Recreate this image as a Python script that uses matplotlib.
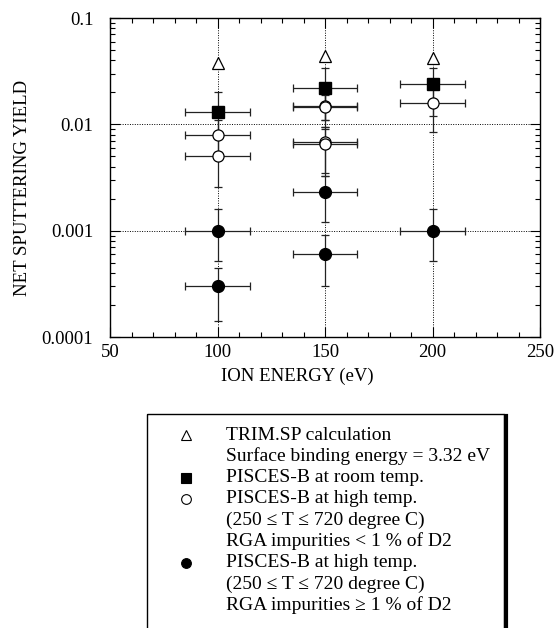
import matplotlib
matplotlib.use("Agg")
import matplotlib.pyplot as plt
from matplotlib.patches import Rectangle
from matplotlib.lines import Line2D
import numpy as np

plt.rcParams['font.family'] = ['Liberation Serif', 'DejaVu Serif']

# ---------------- data ----------------
trim_energy = [100, 150, 200]
trim_yield = [0.038, 0.044, 0.042]

room_energy = [100, 150, 200]
room_yield = [0.013, 0.022, 0.024]
room_lo = [0.0085, 0.011, 0.012]
room_hi = [0.020, 0.034, 0.034]

lowimp_energy = [100, 100, 150, 150, 150, 150, 200]
lowimp_yield = [0.008, 0.005, 0.015, 0.0145, 0.0068, 0.0065, 0.016]
lowimp_lo = [0.0055, 0.0026, 0.0095, 0.011, 0.0035, 0.0033, 0.0085]
lowimp_hi = [0.011, 0.0075, 0.021, 0.019, 0.0095, 0.009, 0.023]

highimp_energy = [100, 100, 150, 150, 200]
highimp_yield = [0.001, 0.0003, 0.0023, 0.0006, 0.001]
highimp_lo = [0.00052, 0.00014, 0.0012, 0.0003, 0.00052]
highimp_hi = [0.0016, 0.00045, 0.0033, 0.00091, 0.0016]

energy_err = 15

x_ticks = [50, 100, 150, 200, 250]
y_ticks = [0.0001, 0.001, 0.01, 0.1]
y_tick_labels = ['0.0001', '0.001', '0.01', '0.1']

legend_lines = [
    ('^', 'white', 'TRIM.SP calculation'),
    (None, None, 'Surface binding energy = 3.32 eV'),
    ('s', 'black', 'PISCES-B at room temp.'),
    ('o', 'white', 'PISCES-B at high temp.'),
    (None, None, '(250 ≤ T ≤ 720 degree C)'),
    (None, None, 'RGA impurities < 1 % of D2'),
    ('o', 'black', 'PISCES-B at high temp.'),
    (None, None, '(250 ≤ T ≤ 720 degree C)'),
    (None, None, 'RGA impurities ≥ 1 % of D2'),
]

# ---------------- figure ----------------
W, H = 558, 628
fig = plt.figure(figsize=(W / 100, H / 100), dpi=100)
ax = fig.add_axes([110 / W, 1 - 337 / H, 430 / W, 319 / H])

def yerr(y, lo, hi):
    y = np.array(y); lo = np.array(lo); hi = np.array(hi)
    return [y - lo, hi - y]

ekw = dict(ecolor='#222222', elinewidth=0.9, capsize=3, capthick=0.9, ls='none', zorder=3)

ax.errorbar(room_energy, room_yield, xerr=energy_err,
            yerr=yerr(room_yield, room_lo, room_hi),
            marker='s', ms=8.5, mfc='black', mec='black', **ekw)
ax.errorbar(lowimp_energy, lowimp_yield, xerr=energy_err,
            yerr=yerr(lowimp_yield, lowimp_lo, lowimp_hi),
            marker='o', ms=8, mfc='white', mec='black', mew=0.9, **ekw)
ax.errorbar(highimp_energy, highimp_yield, xerr=energy_err,
            yerr=yerr(highimp_yield, highimp_lo, highimp_hi),
            marker='o', ms=8.5, mfc='black', mec='black', **ekw)
ax.plot(trim_energy, trim_yield, ls='none', marker='^', ms=8,
        mfc='white', mec='black', mew=0.9, zorder=4)

ax.set_yscale('log')
ax.set_xlim(50, 250)
ax.set_ylim(0.0001, 0.1)
ax.set_xticks(x_ticks)
ax.set_xticks(np.arange(50, 251, 10), minor=True)
ax.set_yticks(y_ticks)
ax.set_yticklabels(y_tick_labels)
ax.tick_params(which='both', direction='in', top=True, right=True,
               labelsize=13.5, width=0.8)
ax.tick_params(which='major', length=7)
ax.tick_params(which='minor', length=3.5)
ax.tick_params(axis='x', which='major', pad=5)
ax.tick_params(axis='y', which='major', pad=12)
ax.grid(True, which='major', ls=(0, (1, 1.5)), color='black', lw=0.7)
ax.set_axisbelow(True)
for s in ax.spines.values():
    s.set_linewidth(1.0)

ax.set_xlabel('ION ENERGY (eV)', fontsize=13.5)
ax.xaxis.set_label_coords(0.436, -0.095)
ax.set_ylabel('NET SPUTTERING YIELD', fontsize=13.5)
ax.yaxis.set_label_coords(-0.184, 0.467)

# ---------------- legend box ----------------
lax = fig.add_axes([0, 0, 1, 1])
lax.set_xlim(0, W)
lax.set_ylim(H, 0)
lax.axis('off')
lax.add_patch(Rectangle((147, 414), 357, 230, fill=False, ec='black', lw=1.0))
lax.add_line(Line2D([505.5, 505.5], [416, 640], color='black', lw=3))

y0, dy = 435, 21.3
for i, (mk, fc, txt) in enumerate(legend_lines):
    yy = y0 + i * dy
    if mk is not None:
        lax.plot([186], [yy], marker=mk, ms=7 if mk != '^' else 6.5,
                 mfc=fc, mec='black', mew=0.8, ls='none')
    lax.text(226, yy, txt, fontsize=14, va='center', ha='left')

fig.savefig('out.png', dpi=100)
